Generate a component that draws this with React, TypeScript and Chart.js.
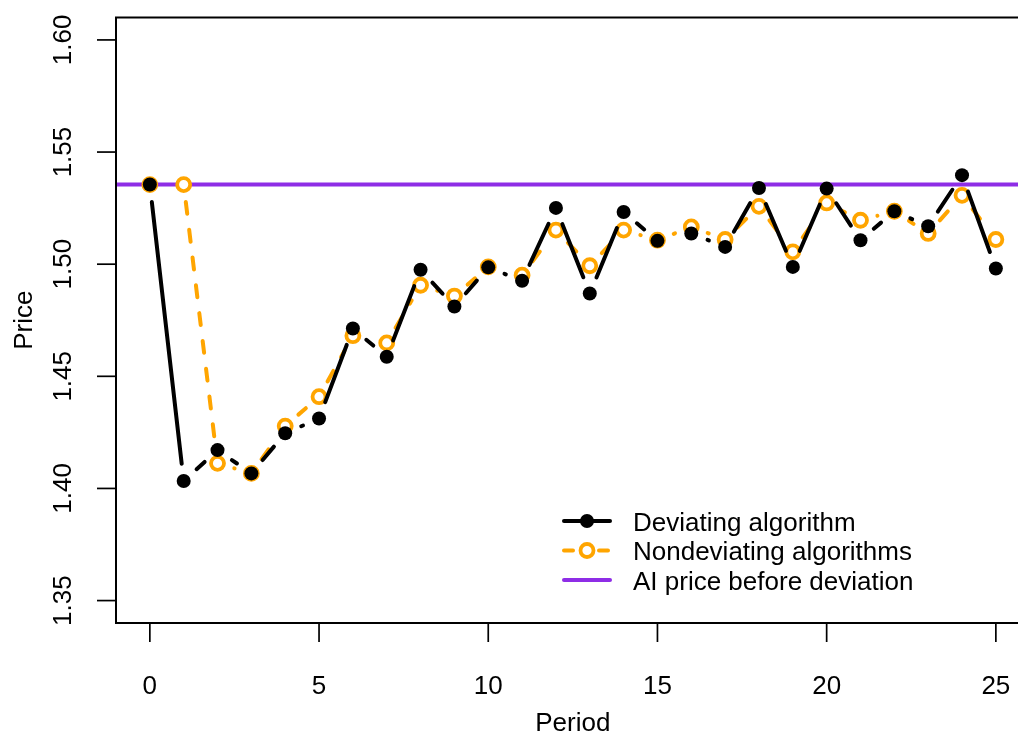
import React, { useEffect, useRef } from "react";
import { Chart, registerables } from "chart.js";

Chart.register(...registerables);

// ---- data ----
const PERIODS = [0, 1, 2, 3, 4, 5, 6, 7, 8, 9, 10, 11, 12, 13, 14, 15, 16, 17, 18, 19, 20, 21, 22, 23, 24, 25];
const DEVIATING = [
  1.5355, 1.4033, 1.4171, 1.4067, 1.4246, 1.4312, 1.4713, 1.4587, 1.4975, 1.4811,
  1.4986, 1.4926, 1.5251, 1.4869, 1.5233, 1.5104, 1.5137, 1.5077, 1.534, 1.4988,
  1.5337, 1.5107, 1.5236, 1.5169, 1.5397, 1.4981,
];
const NONDEVIATING = [
  1.5355, 1.5355, 1.4112, 1.4067, 1.4278, 1.4409, 1.4681, 1.4649, 1.4906, 1.4858,
  1.4988, 1.4951, 1.5152, 1.4993, 1.5152, 1.5107, 1.5166, 1.511, 1.5258, 1.5055,
  1.5273, 1.5196, 1.5236, 1.5137, 1.5307, 1.511,
];
const AI_PRICE = 1.5355;

const SERIES_LABELS = ["Deviating algorithm", "Nondeviating algorithms", "AI price before deviation"];
const X_TICKS = [0, 5, 10, 15, 20, 25];
const X_TICK_LABELS = ["0", "5", "10", "15", "20", "25"];
const Y_TICKS = [1.35, 1.4, 1.45, 1.5, 1.55, 1.6];
const Y_TICK_LABELS = ["1.35", "1.40", "1.45", "1.50", "1.55", "1.60"];
const X_TITLE = "Period";
const Y_TITLE = "Price";

// ---- styles ----
const ORANGE = "#FFA500";
const PURPLE = "#8E2DE6";
const FONT = '26px "Liberation Sans", Arial, Helvetica, sans-serif';
const CANVAS_W = 1040;
const CANVAS_H = 733;
const LINE_W = 4;
const GAP = 17.5; // distance kept clear around each point on connecting segments

// connecting segments drawn with gaps around the points ("both" style)
const gappedLines = {
  id: "gappedLines",
  beforeDatasetDraw(chart: any, args: any) {
    const ds: any = chart.data.datasets[args.index];
    const style = ds.gapStyle;
    if (!style) return;
    const pts = args.meta.data;
    const ctx = chart.ctx;
    const ca = chart.chartArea;
    ctx.save();
    ctx.beginPath();
    ctx.rect(ca.left, ca.top, ca.right - ca.left, ca.bottom - ca.top);
    ctx.clip();
    ctx.strokeStyle = style.color;
    ctx.lineWidth = style.width;
    ctx.lineCap = "round";
    ctx.setLineDash(style.dash);
    for (let i = 0; i < pts.length - 1; i++) {
      const a = pts[i];
      const b = pts[i + 1];
      const dx = b.x - a.x;
      const dy = b.y - a.y;
      const len = Math.hypot(dx, dy);
      if (len <= 2 * GAP) continue;
      const ux = dx / len;
      const uy = dy / len;
      ctx.beginPath();
      ctx.moveTo(a.x + ux * GAP, a.y + uy * GAP);
      ctx.lineTo(b.x - ux * GAP, b.y - uy * GAP);
      ctx.stroke();
    }
    ctx.restore();
  },
};

// box, tick marks, tick labels and axis titles
const frameAndAxes = {
  id: "frameAndAxes",
  afterDraw(chart: any) {
    const ctx = chart.ctx;
    const { left, top, right, bottom } = chart.chartArea;
    const xs = chart.scales.x;
    const ys = chart.scales.y;
    ctx.save();
    ctx.strokeStyle = "#000";
    ctx.fillStyle = "#000";
    ctx.lineWidth = 2;
    ctx.strokeRect(left, top, right - left, bottom - top);

    ctx.lineWidth = 1.7;
    ctx.font = FONT;
    ctx.textAlign = "center";
    ctx.textBaseline = "alphabetic";
    X_TICKS.forEach((v, i) => {
      const x = xs.getPixelForValue(v);
      ctx.beginPath();
      ctx.moveTo(x, bottom);
      ctx.lineTo(x, bottom + 19);
      ctx.stroke();
      ctx.fillText(X_TICK_LABELS[i], x, bottom + 71);
    });
    ctx.fillText(X_TITLE, (left + right) / 2, bottom + 108);

    Y_TICKS.forEach((v, i) => {
      const y = ys.getPixelForValue(v);
      ctx.beginPath();
      ctx.moveTo(left - 19, y);
      ctx.lineTo(left, y);
      ctx.stroke();
      ctx.save();
      ctx.translate(left - 45, y);
      ctx.rotate(-Math.PI / 2);
      ctx.fillText(Y_TICK_LABELS[i], 0, 0);
      ctx.restore();
    });
    ctx.save();
    ctx.translate(left - 84, (top + bottom) / 2);
    ctx.rotate(-Math.PI / 2);
    ctx.fillText(Y_TITLE, 0, 0);
    ctx.restore();
    ctx.restore();
  },
};

// legend in the lower right of the plot, no frame
const insetLegend = {
  id: "insetLegend",
  afterDraw(chart: any) {
    const ctx = chart.ctx;
    const x0 = 563;
    const x1 = 611;
    const xm = (x0 + x1) / 2;
    const textX = 633;
    const rowY0 = 521;
    const rowStep = 29.5;
    ctx.save();
    ctx.font = FONT;
    ctx.textAlign = "left";
    ctx.textBaseline = "alphabetic";
    ctx.lineCap = "round";
    chart.data.datasets.forEach((ds: any, i: number) => {
      const y = rowY0 + i * rowStep;
      ctx.lineWidth = LINE_W;
      ctx.strokeStyle = ds.legendColor;
      ctx.setLineDash(ds.legendDash || []);
      ctx.beginPath();
      ctx.moveTo(x0 + 1, y);
      ctx.lineTo(x1 - 1, y);
      ctx.stroke();
      ctx.setLineDash([]);
      if (ds.pointRadius > 0) {
        ctx.beginPath();
        ctx.arc(xm, y, ds.pointRadius, 0, Math.PI * 2);
        ctx.fillStyle = ds.pointBackgroundColor;
        ctx.fill();
        if (ds.pointBorderWidth > 0) {
          ctx.lineWidth = ds.pointBorderWidth;
          ctx.strokeStyle = ds.pointBorderColor;
          ctx.stroke();
        }
      }
      ctx.fillStyle = "#000";
      ctx.fillText(ds.label, textX, y + 9.5);
    });
    ctx.restore();
  },
};

export default function App() {
  const canvasRef = useRef<HTMLCanvasElement | null>(null);

  useEffect(() => {
    const canvas = canvasRef.current;
    if (!canvas) return;
    const chart = new Chart(canvas, {
      type: "line",
      data: {
        datasets: [
          {
            label: SERIES_LABELS[0],
            data: PERIODS.map((p, i) => ({ x: p, y: DEVIATING[i] })),
            showLine: false,
            pointRadius: 7,
            pointBackgroundColor: "#000",
            pointBorderColor: "#000",
            pointBorderWidth: 0,
            borderColor: "#000",
            gapStyle: { color: "#000", width: LINE_W, dash: [] },
            legendColor: "#000",
          } as any,
          {
            label: SERIES_LABELS[1],
            data: PERIODS.map((p, i) => ({ x: p, y: NONDEVIATING[i] })),
            showLine: false,
            pointRadius: 6.5,
            pointBackgroundColor: "#fff",
            pointBorderColor: ORANGE,
            pointBorderWidth: 3.8,
            borderColor: ORANGE,
            gapStyle: { color: ORANGE, width: LINE_W, dash: [12, 16] },
            legendColor: ORANGE,
            legendDash: [9, 26],
          } as any,
          {
            label: SERIES_LABELS[2],
            data: [
              { x: -1, y: AI_PRICE },
              { x: 26, y: AI_PRICE },
            ],
            showLine: true,
            borderColor: PURPLE,
            borderWidth: LINE_W,
            pointRadius: 0,
            legendColor: PURPLE,
          } as any,
        ],
      },
      options: {
        responsive: false,
        animation: false,
        devicePixelRatio: 1,
        events: [],
        layout: { padding: { left: 116, top: 17.5, right: CANVAS_W - 1030, bottom: CANVAS_H - 623 } },
        plugins: { legend: { display: false }, tooltip: { enabled: false } },
        scales: {
          x: { type: "linear", min: -1, max: 26, display: false },
          y: { type: "linear", min: 1.34, max: 1.61, display: false },
        },
      },
      plugins: [gappedLines, frameAndAxes, insetLegend],
    });
    return () => chart.destroy();
  }, []);

  return (
    <div
      style={{
        position: "fixed",
        left: 0,
        top: 0,
        width: 1018,
        height: 733,
        overflow: "hidden",
        background: "#fff",
      }}
    >
      <canvas
        ref={canvasRef}
        width={CANVAS_W}
        height={CANVAS_H}
        style={{ display: "block", width: CANVAS_W, height: CANVAS_H }}
      />
    </div>
  );
}
